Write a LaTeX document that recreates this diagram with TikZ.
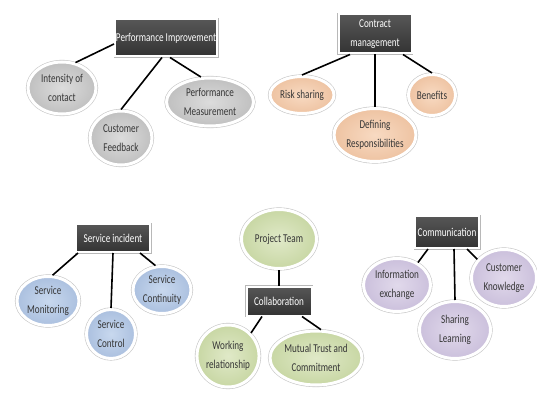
\documentclass[tikz,border=0pt]{standalone}
\usepackage{fontspec}
\setmainfont{Carlito}[FakeStretch=0.76]
\usetikzlibrary{shapes.geometric,shadows}

\definecolor{txtgray}{HTML}{363636}
\definecolor{grayin}{HTML}{DCDCDC}\definecolor{grayout}{HTML}{C0C0C0}
\definecolor{peachin}{HTML}{F8DAC2}\definecolor{peachout}{HTML}{EEC3A2}
\definecolor{bluein}{HTML}{C8D8EE}\definecolor{blueout}{HTML}{ABC0DF}
\definecolor{greenin}{HTML}{E0E9C8}\definecolor{greenout}{HTML}{C8D7A4}
\definecolor{purplein}{HTML}{E1D9EB}\definecolor{purpleout}{HTML}{CBC0DC}

\begin{document}
\begin{tikzpicture}[x=1pt,y=-1pt,
  hbox/.style={rectangle,draw=white,line width=2pt,top color=black!66,bottom color=black!80,
    text=white,font=\fontsize{12}{19}\selectfont,align=center,inner sep=0pt,
    preaction={draw=black!28,line width=3pt},
    drop shadow={opacity=0.35,shadow xshift=0.8pt,shadow yshift=-0.8pt}},
  bub/.style={ellipse,draw=white,line width=3pt,text=txtgray,align=center,inner sep=0pt,
    font=\fontsize{12}{19}\selectfont,shading=radial,
    preaction={draw=black!22,line width=4.2pt},
    drop shadow={opacity=0.3,shadow xshift=0.8pt,shadow yshift=-1pt}},
  gbub/.style={bub,inner color=grayin,outer color=grayout},
  obub/.style={bub,inner color=peachin,outer color=peachout},
  bbub/.style={bub,inner color=bluein,outer color=blueout},
  ebub/.style={bub,inner color=greenin,outer color=greenout},
  pbub/.style={bub,inner color=purplein,outer color=purpleout},
  link/.style={line width=1.6pt,black}]
 \path[use as bounding box,fill=white] (0,0) rectangle (537,398); %frame

 % performance
 \node[hbox,minimum width=102pt,minimum height=37pt] (pi) at (166,38) {Performance Improvement};
 \node[gbub,minimum width=68pt,minimum height=52pt] (ic) at (62,88) {Intensity of\\contact};
 \node[gbub,minimum width=62pt,minimum height=54pt] (cf) at (121,138) {Customer\\Feedback};
 \node[gbub,minimum width=87pt,minimum height=48pt] (pm) at (210,102) {Performance\\Measurement};
 \draw[link] ([yshift=-6pt]pi.west) -- (ic.62);
 \draw[link] ([xshift=-4pt]pi.south) -- (cf.north);
 \draw[link] ([xshift=4pt]pi.south) -- (pm.110);

 % contract
 \node[hbox,minimum width=73pt,minimum height=39pt] (cm) at (375,34) {Contract\\management};
 \node[obub,minimum width=64pt,minimum height=37pt] (rs) at (302,95) {Risk sharing};
 \node[obub,minimum width=82pt,minimum height=53pt] (dr) at (375,135) {Defining\\Responsibilities};
 \node[obub,minimum width=47pt,minimum height=41pt] (bn) at (432,95) {Benefits};
 \draw[link] ([xshift=-25pt]cm.south) -- (rs.north);
 \draw[link] (cm.south) -- (dr.north);
 \draw[link] ([xshift=28pt]cm.south) -- (bn.north);

 % service
 \node[hbox,minimum width=74pt,minimum height=28pt] (si) at (113,238) {Service incident};
 \node[bbub,minimum width=62pt,minimum height=49pt] (sm) at (48,301) {Service\\Monitoring};
 \node[bbub,minimum width=49pt,minimum height=49pt] (sc) at (111,334) {Service\\Control};
 \node[bbub,minimum width=58pt,minimum height=47pt] (sn) at (162,290) {Service\\Continuity};
 \draw[link] ([xshift=-35pt]si.south) -- (sm.80);
 \draw[link] (si.south) -- (sc.north);
 \draw[link] ([xshift=27pt]si.south) -- (sn.105);

 % collaboration
 \node[ebub,minimum width=75pt,minimum height=59pt] (pt) at (279,239) {Project Team};
 \node[hbox,minimum width=65pt,minimum height=29pt] (co) at (279,301) {Collaboration};
 \node[ebub,minimum width=62pt,minimum height=62pt] (wr) at (228,356) {Working\\relationship};
 \node[ebub,minimum width=92pt,minimum height=54pt] (mt) at (316,358) {Mutual Trust and\\Commitment};
 \draw[link] (pt.south) -- (co.north);
 \draw[link] ([xshift=-17pt]co.south) -- (wr.45);
 \draw[link] ([xshift=23pt]co.south) -- (mt.80);

 % communication
 \node[hbox,minimum width=64pt,minimum height=32pt] (cn) at (447,232) {Communication};
 \node[pbub,minimum width=67pt,minimum height=53pt] (ie) at (397,285) {Information\\exchange};
 \node[pbub,minimum width=71pt,minimum height=57pt] (sl) at (455,330) {Sharing\\Learning};
 \node[pbub,minimum width=65pt,minimum height=57pt] (ck) at (504,278) {Customer\\Knowledge};
 \draw[link] ([xshift=-19pt]cn.south) -- (ie.47);
 \draw[link] ([xshift=7pt]cn.south) -- (sl.north);
 \draw[link] ([xshift=20pt]cn.south) -- (ck.145);
\end{tikzpicture}
\end{document}
